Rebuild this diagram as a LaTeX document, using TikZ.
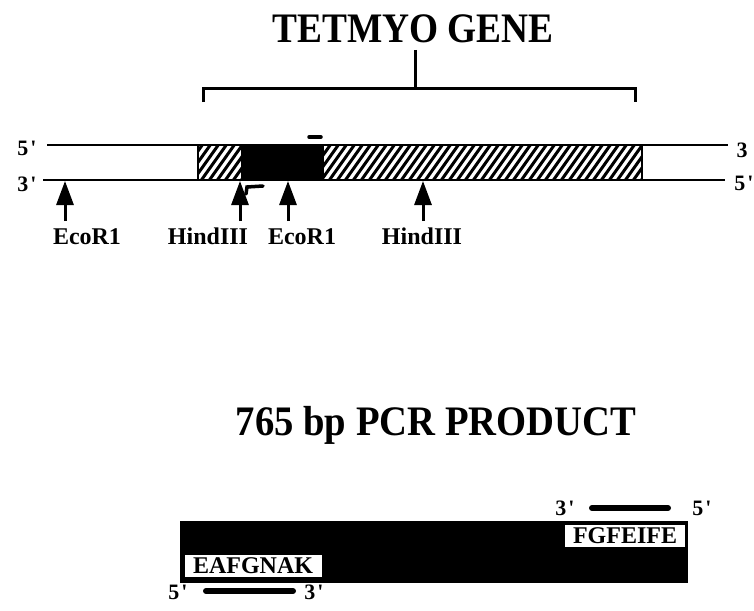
\documentclass[tikz,border=0pt]{standalone}
\usepackage{fontspec}
\setmainfont{Liberation Serif}
\usetikzlibrary{arrows.meta}
\newcommand{\pr}{\kern2pt\textquotesingle}
\begin{document}
\begin{tikzpicture}[x=1pt,y=-1pt,
  big/.style={font=\bfseries\fontsize{42}{48}\selectfont, inner sep=0pt, anchor=base},
  sitelab/.style={font=\bfseries\fontsize{24}{28}\selectfont, inner sep=0pt, anchor=base},
  endlab/.style={font=\bfseries\fontsize{22}{26}\selectfont, inner sep=0pt},
  strand/.style={line width=2.8pt},
  sitearrow/.style={line width=3pt, -{Triangle[length=24pt,width=17pt]}},
  bracketline/.style={line width=3pt},
  primer/.style={line width=6pt, line cap=round},
  pep/.style={fill=white, inner sep=0pt, font=\bfseries\fontsize{24}{28}\selectfont},
  hatchline/.style={line width=3pt}
]
\useasboundingbox (0,0) rectangle (754,610);

% ---- title and bracket
\node[big] (title) at (413,43) {\scalebox{0.89}[1]{TETMYO GENE}};
\coordinate (stemtop) at (415,50);
\coordinate (stembot) at (415,88);
\coordinate (brL) at (203,102);
\coordinate (brR) at (635,102);
\draw[bracketline] (stemtop) -- (stembot);
\draw[bracketline] (brL) |- (stembot) -| (brR);

% ---- DNA strands
\coordinate (t5) at (47,145);
\coordinate (t3) at (728,145);
\coordinate (b3) at (43,180);
\coordinate (b5) at (725,180);
\draw[strand] (t5) -- (t3);
\draw[strand] (b3) -- (b5);
\node[endlab] (l5) at (27,148) {5\pr};
\node[endlab] (l3) at (27,184) {3\pr};
\node[endlab] (r3) at (742,150) {3};
\node[endlab] (r5) at (744,183) {5\pr};

% ---- gene box
\begin{scope}
  \clip (198,145) rectangle (642,180);
  \foreach \x in {160,168,...,660} \draw[hatchline] (\x,182) -- ++(27,-38);
\end{scope}
\fill[black] (241,145) rectangle (324,180);
\draw[line width=2pt] (198,145) rectangle (642,180);

% small marks
\coordinate (d1) at (309,137);
\coordinate (d2) at (321,137);
\draw[line width=3.5pt, line cap=round] (d1) -- (d2);
\coordinate (h1) at (246,194);
\coordinate (h2) at (247,187);
\coordinate (h3) at (263,186);
\draw[line width=3.5pt, line cap=round] (h1) -- (h2) -- (h3);

% ---- restriction sites
\node[sitelab] (s1) at (87,244) {EcoR1};
\node[sitelab] (s2) at (208,244) {HindIII};
\node[sitelab] (s3) at (302,244) {EcoR1};
\node[sitelab] (s4) at (422,244) {HindIII};
\coordinate (a1) at (65,221);  \coordinate (p1) at (65,181);
\coordinate (a2) at (240,221); \coordinate (p2) at (240,181);
\coordinate (a3) at (288,221); \coordinate (p3) at (288,181);
\coordinate (a4) at (423,221); \coordinate (p4) at (423,181);
\draw[sitearrow] (a1) -- (p1);
\draw[sitearrow] (a2) -- (p2);
\draw[sitearrow] (a3) -- (p3);
\draw[sitearrow] (a4) -- (p4);

% ---- PCR product
\node[big] (title2) at (436,435) {\scalebox{0.92}[1]{765 bp PCR PRODUCT}};
\fill[black] (180,521) rectangle (688,583);
\node[pep, minimum width=120pt, minimum height=22pt] (fg) at (625,536) {FGFEIFE};
\node[pep, minimum width=137pt, minimum height=22pt] (ea) at (253,566) {EAFGNAK};

% primers
\node[endlab] (u3) at (565,508) {3\pr};
\node[endlab] (u5) at (702,508) {5\pr};
\coordinate (ub1) at (592,508);
\coordinate (ub2) at (668,508);
\draw[primer] (ub1) -- (ub2);
\node[endlab] (w5) at (178,592) {5\pr};
\node[endlab] (w3) at (314,592) {3\pr};
\coordinate (wb1) at (206,591);
\coordinate (wb2) at (293,591);
\draw[primer] (wb1) -- (wb2);
\end{tikzpicture}
\end{document}
